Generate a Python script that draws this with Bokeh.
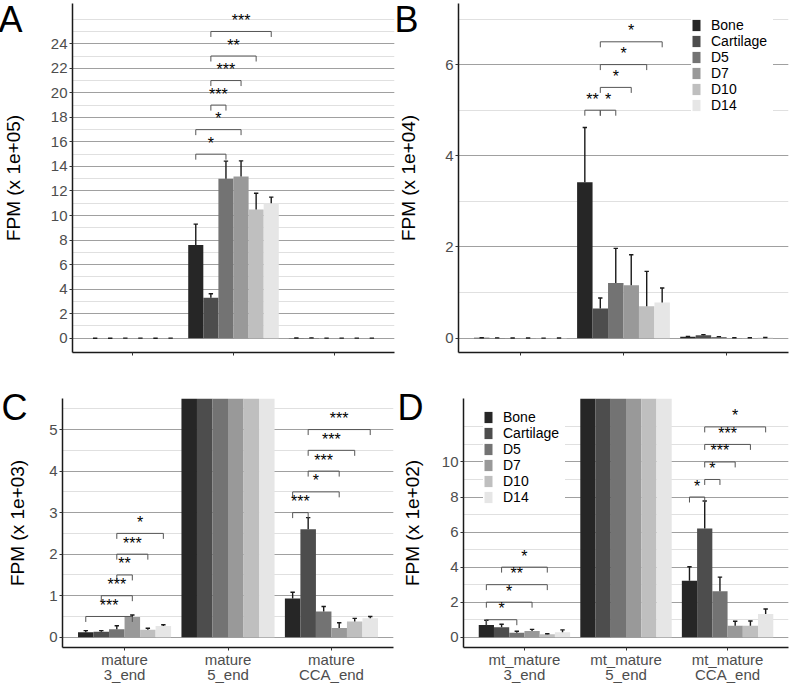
import numpy as np
from bokeh.plotting import figure
from bokeh.models import Range1d, FixedTicker, Label, Legend, LegendItem, ColumnDataSource, Title
from bokeh.layouts import row, column
from bokeh.embed import file_html
from bokeh.resources import INLINE
from bokeh.core.properties import value

# ---------------- data (FPM) ----------------
series = ["Bone", "Cartilage", "D5", "D7", "D10", "D14"]
series_colors = ["#262626", "#4d4d4d", "#737373", "#999999", "#bfbfbf", "#e6e6e6"]

nuc_groups = ["mature\n3_end", "mature\n5_end", "mature\nCCA_end"]
mt_groups = ["mt_mature\n3_end", "mt_mature\n5_end", "mt_mature\nCCA_end"]

# per series values (Bone, Cartilage, D5, D7, D10, D14)
nuc_mean_3end = [120, 135, 195, 485, 180, 270]
nuc_sd_3end = [40, 25, 80, 50, 35, 30]
nuc_mean_5end = [760000, 330000, 1300000, 1318000, 1050000, 1100000]
nuc_sd_5end = [170000, 32000, 143000, 127000, 132000, 50000]
nuc_mean_cca = [930, 2600, 620, 220, 380, 455]
nuc_sd_cca = [155, 280, 120, 130, 75, 45]

mt_mean_3end = [70, 57, 25, 35, 17, 28]
mt_sd_3end = [27, 17, 9, 10, 3, 14]
mt_mean_5end = [34200, 6500, 12100, 11600, 7000, 7800]
mt_sd_5end = [12000, 2300, 7600, 6700, 7650, 3200]
mt_mean_cca = [322, 621, 263, 65, 65, 133]
mt_sd_cca = [80, 156, 80, 26, 28, 28]

# significance brackets: group index (0=3_end,1=5_end,2=CCA_end), from, to, level (FPM), label
sigA_group = [1, 1, 1, 1, 1, 1]
sigA_from = ["Bone", "Bone", "Cartilage", "Cartilage", "Cartilage", "Cartilage"]
sigA_to = ["D5", "D7", "D5", "D7", "D10", "D14"]
sigA_level = [1.5e6, 1.7e6, 1.9e6, 2.1e6, 2.3e6, 2.5e6]
sigA_label = ["*", "*", "***", "***", "**", "***"]

sigB_group = [1, 1, 1, 1, 1]
sigB_from = ["Bone", "Cartilage", "Cartilage", "Cartilage", "Cartilage"]
sigB_to = ["Cartilage", "D5", "D7", "D10", "D14"]
sigB_level = [5.0e4, 5.0e4, 5.5e4, 6.0e4, 6.5e4]
sigB_label = ["**", "*", "*", "*", "*"]

sigC_group = [0, 0, 0, 0, 0, 2, 2, 2, 2, 2]
sigC_from = ["Bone", "Cartilage", "D5", "D5", "D5", "Bone", "Bone", "Cartilage", "Cartilage", "Cartilage"]
sigC_to = ["D7", "D7", "D7", "D10", "D14", "Cartilage", "D7", "D7", "D10", "D14"]
sigC_level = [500, 1000, 1500, 2000, 2500, 3000, 3500, 4000, 4500, 5000]
sigC_label = ["***", "***", "**", "***", "*", "***", "*", "***", "***", "***"]

sigD_group = [0, 0, 0, 0, 2, 2, 2, 2, 2]
sigD_from = ["Bone", "Bone", "Bone", "Cartilage", "Bone", "Cartilage", "Cartilage", "Cartilage", "Cartilage"]
sigD_to = ["D5", "D7", "D10", "D10", "Cartilage", "D5", "D7", "D10", "D14"]
sigD_level = [100, 200, 300, 400, 800, 900, 1000, 1100, 1200]
sigD_label = ["*", "*", "**", "*", "*", "*", "***", "***", "*"]

# axis ticks (display units)
A_major = list(range(0, 25, 2)); A_minor = list(range(0, 27, 1))
B_major = [0, 2, 4, 6]; B_minor = list(range(0, 9))
C_major = [0, 1, 2, 3, 4, 5]; C_minor = [i * 0.5 for i in range(0, 13)]
D_major = list(range(0, 11, 2)); D_minor = list(range(0, 13))

FONT = "Liberation Sans"
BAR_W = 0.15


def panel(means, sds, scale, ylab, group_labels, show_xlabels, sig, yr, xr,
          major, minor, size, borders, ystandoff, letter, letter_side, letter_xy, legend_opts=None):
    fw, fh = size
    bl, br, bt, bb = borders
    p = figure(width=fw, height=fh, output_backend="svg", toolbar_location=None,
               x_range=Range1d(*xr), y_range=Range1d(*yr),
               min_border_left=bl, min_border_right=br, min_border_top=bt, min_border_bottom=bb)
    p.outline_line_color = None
    p.background_fill_color = "white"
    p.border_fill_color = "white"
    frame_h = fh - bt - bb
    frame_w = fw - bl - br
    px_y = frame_h / (yr[1] - yr[0])
    px_x = frame_w / (xr[1] - xr[0])
    tip = 5.5 / px_y
    cap = 2.2 / px_x

    renderers = []
    for k, s in enumerate(series):
        xs = [g + 1 + (k - 2.5) * BAR_W for g in range(3)]
        tops = [m[k] / scale for m in means]
        ups = [(m[k] + d[k]) / scale for m, d in zip(means, sds)]
        src = ColumnDataSource(dict(x=xs, top=tops, up=ups,
                                    cl=[x - cap for x in xs], cr=[x + cap for x in xs]))
        r = p.vbar(x="x", top="top", bottom=0, width=BAR_W, source=src,
                   fill_color=series_colors[k], line_color=None)
        renderers.append(r)
        p.segment(x0="x", y0="top", x1="x", y1="up", source=src, line_color="#1a1a1a", line_width=1.4)
        p.segment(x0="cl", y0="up", x1="cr", y1="up", source=src, line_color="#1a1a1a", line_width=1.4)

    # significance brackets
    g, a, b, lv, lab = sig
    bxs, bys, tx, ty = [], [], [], []
    for gi, fa, tb, level, t in zip(g, a, b, lv, lab):
        x1 = gi + 1 + (series.index(fa) - 2.5) * BAR_W
        x2 = gi + 1 + (series.index(tb) - 2.5) * BAR_W
        y = level / scale
        bxs.append([x1, x1, x2, x2]); bys.append([y - tip, y, y, y - tip])
        tx.append((x1 + x2) / 2); ty.append(y)
    p.multi_line(xs=bxs, ys=bys, line_color="#555555", line_width=1)
    p.text(x=tx, y=ty, text=lab, text_align="center", text_baseline="alphabetic",
           y_offset=-11, text_font=value(FONT), text_font_size="16px", text_color="black")

    # axes
    p.yaxis.ticker = FixedTicker(ticks=major, minor_ticks=minor)
    p.ygrid.grid_line_color = "#a0a0a0"
    p.ygrid.grid_line_width = 1
    p.ygrid.minor_grid_line_color = "#e0e0e0"
    p.ygrid.minor_grid_line_width = 1
    p.xgrid.visible = False
    for ax in (p.xaxis, p.yaxis):
        ax.axis_line_color = "#1a1a1a"
        ax.axis_line_width = 1.5
        ax.major_tick_out = 3
        ax.major_tick_in = 0
        ax.major_tick_line_color = "#333333"
        ax.minor_tick_line_color = None
        ax.major_label_text_font = FONT
        ax.major_label_text_font_size = "15px"
        ax.major_label_text_color = "#4d4d4d"
    p.yaxis.major_label_standoff = 1
    p.xaxis.ticker = FixedTicker(ticks=[1, 2, 3])
    if show_xlabels:
        p.xaxis.major_label_overrides = {i + 1: t for i, t in enumerate(group_labels)}
        p.xaxis.major_label_text_line_height = 0.9
        p.xaxis.major_label_standoff = 0
    else:
        p.xaxis.major_label_overrides = {i + 1: "" for i in range(3)}
        p.xaxis.major_label_text_font_size = "0px"
        p.xaxis.major_label_standoff = 0

    letter_label = Label(x=letter_xy[0], y=letter_xy[1], x_units="screen", y_units="screen",
                         text=letter, text_font=FONT, text_font_size="36px",
                         text_baseline="alphabetic", text_color="black")
    if letter_side == "left":
        # letter slot between tick labels and the y title
        p.add_layout(letter_label, "left")
        p.add_layout(Title(text=ylab, align="center", text_font=FONT, text_font_size="19px",
                           text_font_style="normal", text_color="black", standoff=0), "left")
    else:
        p.yaxis.axis_label = ylab
        p.yaxis.axis_label_text_font = FONT
        p.yaxis.axis_label_text_font_size = "19px"
        p.yaxis.axis_label_text_font_style = "normal"
        p.yaxis.axis_label_text_color = "black"
        p.yaxis.axis_label_standoff = ystandoff
        p.add_layout(letter_label, "above")

    if legend_opts is not None:
        items = [LegendItem(label=s, renderers=[r]) for s, r in zip(series, renderers)]
        leg = Legend(items=items, location=legend_opts, margin=0, padding=4,
                     spacing=0, glyph_width=10, glyph_height=14, label_height=14, label_width=62,
                     label_standoff=10, label_text_font=FONT, label_text_font_size="14px",
                     label_text_color="black", border_line_color=None,
                     background_fill_color="white", background_fill_alpha=1.0)
        p.add_layout(leg)
    return p


nuc_means = [nuc_mean_3end, nuc_mean_5end, nuc_mean_cca]
nuc_sds = [nuc_sd_3end, nuc_sd_5end, nuc_sd_cca]
mt_means = [mt_mean_3end, mt_mean_5end, mt_mean_cca]
mt_sds = [mt_sd_3end, mt_sd_5end, mt_sd_cca]

pA = panel(nuc_means, nuc_sds, 1e5, "FPM (x 1e+05)", nuc_groups, False,
           (sigA_group, sigA_from, sigA_to, sigA_level, sigA_label),
           (-1.165, 27.28), (0.4, 3.6), A_major, A_minor, (395, 357), (71, 1, 3, 5), 19,
           "A", "left", (-25, 333))
pB = panel(mt_means, mt_sds, 1e4, "FPM (x 1e+04)", mt_groups, False,
           (sigB_group, sigB_from, sigB_to, sigB_level, sigB_label),
           (-0.314, 7.34), (0.4, 3.6), B_major, B_minor, (394, 357), (60, 1, 3, 5), 16,
           "B", "left", (-24, 333), legend_opts=(233, 239))
pC = panel(nuc_means, nuc_sds, 1e3, "FPM (x 1e+03)", nuc_groups, True,
           (sigC_group, sigC_from, sigC_to, sigC_level, sigC_label),
           (-0.247, 5.748), (0.4, 3.6), C_major, C_minor, (395, 328), (62, 2, 40, 38), 18,
           "C", "above", (-61, -9))
pD = panel(mt_means, mt_sds, 1e2, "FPM (x 1e+02)", mt_groups, True,
           (sigD_group, sigD_from, sigD_to, sigD_level, sigD_label),
           (-0.585, 13.62), (0.4, 3.6), D_major, D_minor, (394, 328), (68, 1, 40, 38), 16,
           "D", "above", (-66, -9), legend_opts=(20, 142))

layout = column(row(pA, pB), row(pC, pD))
open("out.html", "w").write(file_html(layout, INLINE))
